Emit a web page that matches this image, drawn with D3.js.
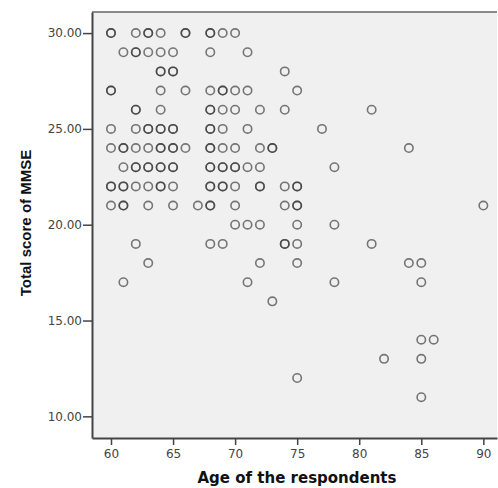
<!DOCTYPE html>
<html>
<head>
<meta charset="utf-8">
<script src="https://cdn.jsdelivr.net/npm/d3@7"></script>
<style>
body { margin: 0; background: #fff; }
text { font-family: "DejaVu Sans", Verdana, sans-serif; }
</style>
</head>
<body>
<div id="chart"></div>
<script>
// age and MMSE score of each respondent (repeats = overlapping cases)
var ages = [
  60,60,62,63,63,64,66,66,68,68,69,70,
  61,62,62,63,64,65,68,71,
  64,64,65,65,74,
  60,60,64,66,68,69,69,70,71,75,
  62,62,64,68,68,69,70,72,74,81,
  60,62,63,63,64,64,65,65,68,68,69,71,77,
  60,61,61,62,63,64,64,65,65,66,68,68,69,70,72,73,73,84,
  61,62,62,63,63,64,64,65,65,68,68,69,69,70,70,71,72,78,
  60,60,61,61,62,63,64,64,65,68,68,69,69,70,72,72,74,75,75,
  60,61,61,63,65,67,68,68,70,74,75,75,90,
  70,71,72,75,78,
  62,68,69,74,74,75,81,
  63,72,75,84,85,
  61,71,78,85,
  73,
  85,86,
  82,85,
  75,
  85
];
var scores = [
  30,30,30,30,30,30,30,30,30,30,30,30,
  29,29,29,29,29,29,29,29,
  28,28,28,28,28,
  27,27,27,27,27,27,27,27,27,27,
  26,26,26,26,26,26,26,26,26,26,
  25,25,25,25,25,25,25,25,25,25,25,25,25,
  24,24,24,24,24,24,24,24,24,24,24,24,24,24,24,24,24,24,
  23,23,23,23,23,23,23,23,23,23,23,23,23,23,23,23,23,23,
  22,22,22,22,22,22,22,22,22,22,22,22,22,22,22,22,22,22,22,
  21,21,21,21,21,21,21,21,21,21,21,21,21,
  20,20,20,20,20,
  19,19,19,19,19,19,19,
  18,18,18,18,18,
  17,17,17,17,
  16,
  14,14,
  13,13,
  12,
  11
];
var xTicks = [60, 65, 70, 75, 80, 85, 90];
var yTicks = [10, 15, 20, 25, 30];

var width = 498, height = 488;
var plotLeft = 92, plotRight = 497, plotTop = 12, plotBottom = 438;

var x = d3.scaleLinear().domain([58.47, 91.1]).range([plotLeft, plotRight]);
var y = d3.scaleLinear().domain([8.87, 31.1]).range([plotBottom, plotTop]);

var svg = d3.select("#chart").append("svg")
    .attr("width", width)
    .attr("height", height);

svg.append("rect")
    .attr("x", plotLeft).attr("y", plotTop)
    .attr("width", plotRight - plotLeft).attr("height", plotBottom - plotTop)
    .attr("fill", "#f0f0f0");

// top edge of the frame
svg.append("line")
    .attr("x1", plotLeft).attr("x2", plotRight)
    .attr("y1", plotTop).attr("y2", plotTop)
    .attr("stroke", "#8a8a8a")
    .attr("stroke-width", 2);

svg.selectAll("circle")
    .data(ages)
    .enter().append("circle")
    .attr("cx", function(d) { return x(d); })
    .attr("cy", function(d, i) { return y(scores[i]); })
    .attr("r", 4.2)
    .attr("fill", "none")
    .attr("stroke", "#333")
    .attr("stroke-opacity", 0.65)
    .attr("stroke-width", 1.6);

var gx = svg.append("g")
    .attr("transform", "translate(0," + plotBottom + ")")
    .call(d3.axisBottom(x).tickValues(xTicks).tickSize(7).tickSizeOuter(0).tickPadding(4));

var gy = svg.append("g")
    .attr("transform", "translate(" + plotLeft + ",0)")
    .call(d3.axisLeft(y).tickValues(yTicks).tickSize(9).tickSizeOuter(0).tickPadding(1)
      .tickFormat(d3.format(".2f")));

[gx, gy].forEach(function(g) {
  g.select(".domain").attr("stroke", "#444").attr("stroke-width", 2);
  g.selectAll(".tick line").attr("stroke", "#444").attr("stroke-width", 1.5);
  g.selectAll(".tick text").attr("fill", "#444")
    .style("font-family", "'DejaVu Sans', Verdana, sans-serif")
    .style("font-size", "12px");
});

svg.append("text")
    .attr("x", 297)
    .attr("y", 483)
    .attr("text-anchor", "middle")
    .style("font-size", "15px")
    .style("font-weight", "bold")
    .attr("fill", "#111")
    .text("Age of the respondents");

svg.append("text")
    .attr("transform", "translate(31,223) rotate(-90)")
    .attr("text-anchor", "middle")
    .style("font-family", "'Liberation Sans', Arial, sans-serif")
    .style("font-size", "15px")
    .style("font-weight", "bold")
    .attr("fill", "#111")
    .text("Total score of MMSE");
</script>
</body>
</html>
